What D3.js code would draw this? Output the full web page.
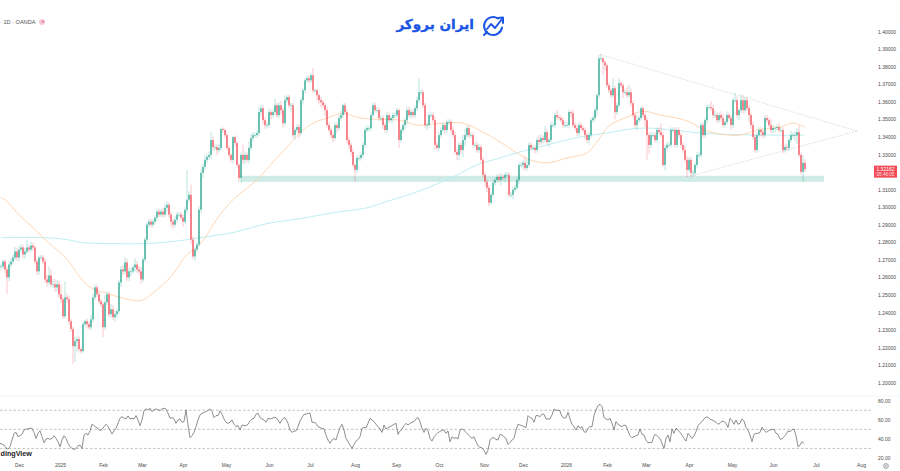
<!DOCTYPE html>
<html><head><meta charset="utf-8">
<script src="https://cdn.jsdelivr.net/npm/d3@7"></script>
<style>
html,body{margin:0;padding:0;background:#fff;overflow:hidden}
svg{display:block;font-family:"Liberation Sans",Arial,sans-serif}
.axis text{fill:#4a4a4a;font-size:5px}
.axis path,.axis line{display:none}
</style></head><body>
<svg id="chart" width="900" height="471"></svg>
<script>
// GBP/USD daily closes, one per session
const closes = [
1.2662,1.2690,1.2645,1.2600,1.2673,1.2690,1.2713,1.2747,1.2713,1.2758,
1.2770,1.2730,1.2747,1.2770,1.2758,1.2781,1.2770,1.2690,1.2634,1.2713,
1.2713,1.2690,1.2588,1.2571,1.2611,1.2560,1.2560,1.2543,1.2560,1.2503,
1.2475,1.2378,1.2486,1.2475,1.2350,1.2305,1.2208,1.2237,1.2248,1.2191,
1.2180,1.2333,1.2350,1.2333,1.2316,1.2361,1.2486,1.2543,1.2503,1.2463,
1.2446,1.2316,1.2458,1.2503,1.2390,1.2418,1.2373,1.2390,1.2407,1.2571,
1.2645,1.2634,1.2685,1.2600,1.2634,1.2634,1.2656,1.2673,1.2645,1.2634,
1.2588,1.2702,1.2815,1.2900,1.2917,1.2900,1.2917,1.2940,1.2974,1.2957,
1.2974,1.2957,1.2996,1.3013,1.2957,1.2917,1.2900,1.2928,1.2957,1.2957,
1.2940,1.2917,1.2985,1.3042,1.3070,1.2815,1.2719,1.2758,1.2787,1.2985,
1.3195,1.3229,1.3269,1.3286,1.3297,1.3382,1.3342,1.3342,1.3325,1.3337,
1.3444,1.3439,1.3410,1.3337,1.3297,1.3269,1.3399,1.3365,1.3240,1.3166,
1.3297,1.3269,1.3297,1.3269,1.3337,1.3393,1.3410,1.3410,1.3422,1.3541,
1.3563,1.3495,1.3467,1.3467,1.3541,1.3524,1.3541,1.3580,1.3524,1.3580,
1.3552,1.3478,1.3609,1.3626,1.3580,1.3580,1.3410,1.3439,1.3456,1.3422,
1.3609,1.3665,1.3722,1.3734,1.3722,1.3751,1.3665,1.3665,1.3637,1.3609,
1.3597,1.3580,1.3552,1.3467,1.3439,1.3410,1.3393,1.3467,1.3450,1.3507,
1.3524,1.3580,1.3541,1.3382,1.3354,1.3314,1.3240,1.3212,1.3280,1.3280,
1.3297,1.3354,1.3439,1.3450,1.3450,1.3524,1.3580,1.3552,1.3552,1.3507,
1.3507,1.3467,1.3439,1.3524,1.3495,1.3507,1.3524,1.3524,1.3552,1.3382,
1.3439,1.3467,1.3495,1.3552,1.3524,1.3541,1.3524,1.3563,1.3609,1.3654,
1.3654,1.3580,1.3467,1.3467,1.3524,1.3524,1.3495,1.3354,1.3337,1.3410,
1.3439,1.3467,1.3439,1.3484,1.3484,1.3439,1.3410,1.3314,1.3297,1.3354,
1.3325,1.3382,1.3410,1.3450,1.3410,1.3410,1.3354,1.3354,1.3325,1.3342,
1.3269,1.3184,1.3144,1.3110,1.3025,1.3070,1.3138,1.3155,1.3172,1.3155,
1.3172,1.3166,1.3184,1.3184,1.3070,1.3070,1.3099,1.3110,1.3155,1.3240,
1.3240,1.3252,1.3223,1.3240,1.3354,1.3337,1.3337,1.3325,1.3382,1.3371,
1.3393,1.3382,1.3427,1.3371,1.3382,1.3467,1.3467,1.3524,1.3512,1.3507,
1.3495,1.3467,1.3467,1.3467,1.3541,1.3535,1.3467,1.3450,1.3422,1.3467,
1.3450,1.3439,1.3410,1.3382,1.3410,1.3495,1.3507,1.3552,1.3637,1.3847,
1.3847,1.3824,1.3807,1.3694,1.3665,1.3637,1.3677,1.3541,1.3580,1.3705,
1.3694,1.3654,1.3654,1.3637,1.3654,1.3592,1.3524,1.3467,1.3495,1.3507,
1.3563,1.3524,1.3495,1.3410,1.3354,1.3410,1.3410,1.3382,1.3439,1.3427,
1.3410,1.3240,1.3337,1.3354,1.3354,1.3439,1.3439,1.3354,1.3439,1.3410,
1.3354,1.3325,1.3269,1.3212,1.3269,1.3195,1.3195,1.3240,1.3297,1.3297,
1.3467,1.3410,1.3495,1.3569,1.3569,1.3563,1.3524,1.3524,1.3495,1.3524,
1.3507,1.3467,1.3484,1.3524,1.3507,1.3467,1.3609,1.3609,1.3524,1.3552,
1.3609,1.3552,1.3609,1.3563,1.3524,1.3467,1.3399,1.3325,1.3410,1.3439,
1.3427,1.3410,1.3507,1.3495,1.3467,1.3439,1.3450,1.3450,1.3456,1.3439,
1.3439,1.3325,1.3342,1.3337,1.3382,1.3410,1.3410,1.3410,1.3427,1.3297,
1.3201,1.3252,1.32162];

// wick length above the body, in pips
const upperWick = [
15,10,10,15,20,20,15,25,20,20,20,15,20,45,15,20,15,10,15,10,
15,15,20,25,50,35,30,30,25,20,55,15,90,20,20,15,15,25,15,15,
10,15,10,15,15,25,20,15,15,15,15,15,40,15,15,30,25,20,15,15,
20,25,30,20,20,25,15,35,20,20,25,15,15,10,15,15,15,15,15,15,
15,20,20,20,15,15,15,20,15,15,15,20,15,170,20,60,20,15,15,20,
20,20,25,15,20,45,20,15,15,25,5,10,10,10,10,10,5,10,10,10,
15,60,20,15,35,25,15,15,15,30,20,15,15,15,20,15,15,40,15,15,
25,15,25,10,15,15,15,15,15,15,15,15,15,15,15,15,40,10,10,10,
20,15,15,20,15,15,15,15,15,15,25,10,15,15,15,15,20,10,15,15,
15,15,15,15,15,20,15,15,15,15,15,15,15,20,15,15,15,15,15,10,
15,15,15,20,20,15,15,15,20,80,15,15,15,15,15,15,15,15,15,15,
15,15,10,15,15,15,20,20,15,15,15,30,35,15,15,15,15,15,15,20,
15,15,15,15,15,15,15,15,15,15,25,15,15,15,15,15,15,15,15,15,
15,15,35,30,15,15,15,15,15,30,20,15,35,15,15,20,15,15,30,15,
15,15,20,15,15,10,20,15,20,15,15,15,15,15,15,15,15,15,10,22,
24,10,10,10,15,15,57,15,15,30,15,15,15,30,40,20,15,15,25,15,
10,15,15,20,15,15,15,15,15,15,50,15,15,20,15,15,15,15,15,15,
15,15,25,20,15,15,15,15,15,15,15,15,15,15,15,35,20,25,15,15,
20,25,15,20,15,20,15,40,20,15,35,30,15,20,15,15,20,15,15,15,
15,15,15,20,15,35,15,15,15,25,15,15,15,20,15,25,15,20,20,40,
15,45,20];

// wick length below the body, in pips
const lowerWick = [
20,15,20,96,20,15,15,15,20,20,15,20,25,15,15,15,20,15,20,20,
15,15,20,25,15,15,20,25,25,20,20,15,15,20,20,15,100,90,60,20,
15,10,15,25,15,15,15,15,15,15,15,57,15,15,15,20,15,25,20,15,
25,20,15,20,20,25,15,25,20,20,25,15,15,15,15,15,15,15,20,15,
15,15,15,20,20,30,25,15,15,15,15,30,15,20,15,25,15,25,15,15,
20,30,20,20,15,25,20,20,30,15,15,15,15,15,15,15,20,20,15,25,
30,25,20,15,20,15,20,15,15,15,20,25,20,20,15,25,15,15,15,15,
25,25,15,15,20,35,15,25,15,30,15,25,15,15,15,15,15,15,30,25,
30,15,35,15,15,20,25,15,25,15,15,15,15,20,25,20,15,68,15,15,
15,15,15,15,20,15,15,15,15,15,15,25,15,20,15,15,25,15,15,45,
15,15,25,25,15,20,15,15,15,15,15,15,15,30,15,15,15,25,15,15,
15,15,25,15,15,20,15,15,30,30,20,40,35,15,15,15,15,15,15,15,
15,15,25,25,20,10,15,15,15,15,30,15,25,15,15,15,25,15,15,25,
15,25,15,15,15,15,15,20,15,20,15,20,15,15,30,15,15,15,15,15,
15,15,15,15,15,25,15,15,15,20,15,15,25,15,25,15,15,15,30,15,
15,70,30,15,15,15,15,40,15,15,15,35,15,15,15,20,15,15,30,15,
15,15,40,140,50,20,15,15,15,15,15,10,30,15,15,15,15,15,15,15,
15,15,15,40,15,25,20,15,15,15,15,15,15,20,15,15,15,15,15,15,
20,15,15,15,15,25,15,15,15,30,15,20,15,15,40,25,15,15,15,15,
25,20,15,15,15,15,20,25,15,15,15,20,15,15,15,15,15,35,50,15,
15,60,15];

// RSI(14) readings
const rsi = [
35.3,34.6,33.5,30.7,29.3,31.8,38.8,45.8,46.8,42.3,43.3,44.7,49.3,50.4,50.4,51.1,51.1,46.8,40.5,45.8,
48.6,42.3,36,39.8,40.5,39.5,40.5,43.3,40.5,37,31.8,38.8,43.3,40.5,35.3,31.8,30,28.9,30,32.8,
33.5,30,44,45.8,44,48.3,55.3,53.9,52.1,51.1,48.6,50,52.8,55.3,52.8,49.3,45.1,48.3,51.1,56.3,
61.6,63.3,61.6,60.9,64,60.9,61.6,60.9,64.4,59.8,53.9,59.8,69.7,71.4,70.4,72.1,68.6,70.4,71.4,70.4,
69.7,71.4,72.1,71.4,66.9,61.6,62.3,60.9,56.3,59.8,60.9,57.4,58.1,70.4,54.6,41.2,43.3,46.8,52.8,59.8,
65.1,66.9,67.6,68.6,69.7,71.4,68.6,62.3,64.4,64.4,69.3,65.8,60.9,57.4,56.3,57.4,59.8,55.3,52.8,53.9,
49.3,54.6,53.9,53.9,55.3,58.8,60.9,61.6,65.8,66.9,62.3,60.9,59.8,57.4,61.6,60.9,61.6,62.3,62.3,59.8,
56.3,59.8,62.3,60.9,56.3,49.3,46.8,48.3,48.3,52.8,
58.8,62.3,65.8,65.8,66.9,66.9,57.4,57.4,56.3,52.8,51.8,51.1,50.4,44,38.8,35.3,38.8,40.5,38.8,45.8,
51.8,55.3,49.3,40.5,37,33.5,30,34.2,37.7,39.5,42.3,51.1,52.1,51.8,56.3,61.6,59.8,58.1,55.3,52.8,
50.4,46.8,54.6,50.4,51.8,52.8,53.9,55.3,56.3,44.7,48.3,50.4,53.9,56.3,54.6,56.3,57.4,58.1,60.9,62.3,
58.1,51.1,46.8,51.1,48.3,40.5,37.7,42.3,44.7,46.8,47.6,49.3,49.3,45.8,48.3,37,42.3,40.5,41.6,39.8,
49.3,50.4,49.3,46.8,44.7,42.3,40.5,42.3,37,32.8,31.1,30.7,28.2,23.7,28.2,38.8,41.2,41.2,39.5,38.8,
44.7,44,42.3,40.5,34.2,36.3,38.8,40.5,49.3,55.3,54.6,53.9,52.8,51.8,64.4,62.3,61.6,57.4,64.4,64.4,
63.3,65.8,65.8,60.9,60.9,60.9,65.1,71.4,69.7,70,69.3,63.3,61.6,62.3,67.9,60.9,55.3,52.8,49.3,53.9,
51.1,52.8,47.6,46.8,51.1,52.8,52.8,64.4,70.4,74.9,
76.3,73.9,62.3,60.9,59.8,61.6,56.3,49.3,58.1,55.3,53.9,52.8,54.6,53.9,48.3,43.3,41.2,42.3,43.3,44,
50.4,44.7,44,38.8,36,36.3,36.3,43.3,44.7,42.3,40.5,35.3,30,40.5,44,37,50.4,45.8,51.1,49.3,
46.8,44,40.5,37.7,45.8,43.3,40.5,43.3,47.6,53.9,56.3,58.1,60.9,63,62.6,60.6,59.8,58.8,57.4,55.3,
56.3,58.8,58.1,56.3,52.1,61.6,59.1,55.3,59.8,55.3,56.3,60.9,58.8,51.8,49.3,44,37,44.7,45.8,45.8,
46.8,52.1,49.3,46.8,48.3,49.3,50,50,45.8,44.7,39.8,39.8,42.3,44.7,48.3,47.6,49.6,50.4,43.3,31.8,
33.5,37,35.3];

// short moving average, read at selected sessions
const fastMaBars = [0,2,10,16,21,33,39.5,44.5,53,59.5,66,70.5,77,85,93,98,103,109.5,116,128,136,143,149.5,156,163,171.5,178,186,199.5,208,216,231,241,249.5,258,264.5,273,283,293,298,304.5,313,321,329.5,338,344.5,350.5,359.5,369.5,378,389.5,396,402];
const fastMaValues = [1.3053,1.3042,1.2945,1.2883,1.2826,1.2702,1.2600,1.2543,1.2509,1.2486,1.2469,1.2469,1.2520,1.2605,1.2730,1.2770,1.2843,1.2957,1.3042,1.3155,1.3257,1.3342,1.3422,1.3478,1.3507,1.3535,1.3512,1.3501,1.3495,1.3467,1.3473,1.3478,1.3427,1.3371,1.3308,1.3269,1.3252,1.3280,1.3308,1.3371,1.3467,1.3512,1.3546,1.3524,1.3507,1.3484,1.3444,1.3416,1.3410,1.3439,1.3456,1.3478,1.3456];

// long moving average, read at selected sessions
const slowMaBars = [0,21,33,40.5,58,71,86,99.5,116,133,149.5,166,183,191,208,226,238,249.5,256,273,289.5,303,314.5,323,336,349.5,359.5,379.5,401.5];
const slowMaValues = [1.2826,1.2826,1.2815,1.2798,1.2792,1.2792,1.2804,1.2826,1.2855,1.2906,1.2934,1.2968,1.2996,1.3025,1.3087,1.3172,1.3240,1.3280,1.3303,1.3354,1.3399,1.3422,1.3444,1.3450,1.3439,1.3422,1.3416,1.3410,1.3410];

// support band and the converging trendlines
const zoneBars = [120, 411.5];
const zonePrices = [1.3178, 1.3144];
const trendUpperBars = [299.5, 428];
const trendUpperPrices = [1.3870, 1.3433];
const trendLowerBars = [343, 428];
const trendLowerPrices = [1.3172, 1.3433];

// axis contents
const priceTicks = [1.40,1.39,1.38,1.37,1.36,1.35,1.34,1.33,1.31,1.30,1.29,1.28,1.27,1.26,1.25,1.24,1.23,1.22,1.21,1.20];
const monthLabels = ["Dec","2025","Feb","Mar","Apr","May","Jun","Jul","Aug","Sep","Oct","Nov","Dec","2026","Feb","Mar","Apr","May","Jun","Jul","Aug"];
const monthBars = [9,29.5,51,70.5,91,112.5,134,154.5,177,197.5,219,241.5,261,282.5,303,322.5,344,365.5,386,407.5,430];
const rsiTicks = [80,60,40,20];
const rsiBands = [70,50,30];
const lastPrice = 1.32162;
const countdown = "05:46:05";

const up = "#089981", down = "#F23645";
const svg = d3.select("#chart");

// bars are evenly spaced, so every pane shares one index scale
const x = d3.scaleLinear().domain([0, 402]).range([1, 805]);
const y = d3.scaleLinear().domain([1.20, 1.40]).range([382.7, 31.5]);
const yRsi = d3.scaleLinear().domain([20, 80]).range([458, 400.7]);

const bars = closes.map((c, i) => {
  const o = i ? closes[i - 1] : c;
  return {
    i, o, c,
    h: Math.max(o, c) + upperWick[i] / 1e4,
    l: Math.min(o, c) - lowerWick[i] / 1e4
  };
});

// support band
svg.append("rect")
  .attr("x", x(zoneBars[0])).attr("width", x(zoneBars[1]) - x(zoneBars[0]))
  .attr("y", y(zonePrices[0])).attr("height", y(zonePrices[1]) - y(zonePrices[0]))
  .attr("fill", "#089981").attr("fill-opacity", 0.2);

// moving averages under the candles
const maLine = d3.line().x(d => x(d[0])).y(d => y(d[1])).curve(d3.curveCatmullRom);
svg.append("path").datum(d3.zip(slowMaBars, slowMaValues)).attr("d", maLine)
  .attr("fill", "none").attr("stroke", "#b5ebef").attr("stroke-width", 0.9);
svg.append("path").datum(d3.zip(fastMaBars, fastMaValues)).attr("d", maLine)
  .attr("fill", "none").attr("stroke", "#fdd3ae").attr("stroke-width", 0.9);

// trendlines
[[trendUpperBars, trendUpperPrices], [trendLowerBars, trendLowerPrices]].forEach(([b, p]) => {
  svg.append("line")
    .attr("x1", x(b[0])).attr("y1", y(p[0])).attr("x2", x(b[1])).attr("y2", y(p[1]))
    .attr("stroke", "#c9c9c9").attr("stroke-width", 0.7).attr("stroke-dasharray", "1.5 1.5");
});

// candles
const g = svg.append("g").selectAll("g").data(bars).join("g");
g.append("line")
  .attr("x1", d => x(d.i)).attr("x2", d => x(d.i))
  .attr("y1", d => y(d.h)).attr("y2", d => y(d.l))
  .attr("stroke", d => d.c >= d.o ? up : down)
  .attr("stroke-opacity", 0.4).attr("stroke-width", 0.7);
g.append("rect")
  .attr("x", d => x(d.i) - 0.6).attr("width", 1.2)
  .attr("y", d => y(Math.max(d.o, d.c)))
  .attr("height", d => Math.max(0.6, y(Math.min(d.o, d.c)) - y(Math.max(d.o, d.c))))
  .attr("fill", d => d.c >= d.o ? up : down).attr("fill-opacity", 0.9);

// price axis
svg.append("g").attr("class", "axis").attr("transform", "translate(874,0)")
  .call(d3.axisRight(y).tickValues(priceTicks).tickSize(0).tickPadding(4).tickFormat(d3.format(".5f")));

// last price tag
svg.append("rect").attr("x", 874).attr("y", y(lastPrice) - 3.5).attr("width", 23).attr("height", 12)
  .attr("fill", down).attr("fill-opacity", 0.9);
svg.append("text").attr("x", 885.5).attr("y", y(lastPrice) + 2.2).attr("text-anchor", "middle")
  .attr("fill", "#fff").attr("font-size", 5).text(d3.format(".5f")(lastPrice));
svg.append("text").attr("x", 885.5).attr("y", y(lastPrice) + 7).attr("text-anchor", "middle")
  .attr("fill", "#fff").attr("fill-opacity", 0.85).attr("font-size", 4.6).text(countdown);

// pane divider
svg.append("line").attr("x1", 0).attr("x2", 900).attr("y1", 396).attr("y2", 396)
  .attr("stroke", "#f0f3fa").attr("stroke-width", 1);

// RSI pane
svg.append("g").selectAll("line").data(rsiBands).join("line")
  .attr("x1", 0).attr("x2", 873).attr("y1", d => yRsi(d)).attr("y2", d => yRsi(d))
  .attr("stroke", "#a9a9a9").attr("stroke-width", 0.7).attr("stroke-dasharray", "2.5 2");
svg.append("path").datum(rsi)
  .attr("d", d3.line().x((d, i) => x(i - 0.5)).y(d => yRsi(d)))
  .attr("fill", "none").attr("stroke", "#6a6a6a").attr("stroke-width", 0.75);
svg.append("g").attr("class", "axis").attr("transform", "translate(874,0)")
  .call(d3.axisRight(yRsi).tickValues(rsiTicks).tickSize(0).tickPadding(4).tickFormat(d3.format(".2f")));

// time axis
svg.append("g").attr("class", "axis").attr("transform", "translate(0,462)")
  .call(d3.axisBottom(x).tickValues(monthBars).tickSize(0).tickPadding(1)
    .tickFormat(d => monthLabels[monthBars.indexOf(d)]));

// settings glyph in the axis corner
svg.append("circle").attr("cx", 886).attr("cy", 466).attr("r", 2.4)
  .attr("fill", "none").attr("stroke", "#777").attr("stroke-width", 0.7);
svg.append("circle").attr("cx", 886).attr("cy", 466).attr("r", 0.9)
  .attr("fill", "none").attr("stroke", "#777").attr("stroke-width", 0.5);

// symbol caption
svg.append("text").attr("x", 0).attr("y", 24)
  .attr("fill", "#555").attr("font-size", 5.6).text("· 1D · OANDA");
svg.append("circle").attr("cx", 42).attr("cy", 22).attr("r", 3).attr("fill", "#f8c8dc");
svg.append("text").attr("x", 42).attr("y", 23.3).attr("text-anchor", "middle")
  .attr("fill", "#d0426f").attr("font-size", 3.6).text("≋");

// watermark
svg.append("text").attr("x", 0.5).attr("y", 456)
  .attr("fill", "#222").attr("font-size", 7.2).attr("font-weight", 700).text("dingView");

// brand mark
const brand = "#1c56e6";
svg.append("text").attr("x", 474).attr("y", 29)
  .attr("direction", "rtl").attr("fill", brand).attr("stroke", brand).attr("stroke-width", 0.35)
  .attr("font-family", "'DejaVu Sans'").attr("font-weight", 700).attr("font-size", 13.6)
  .text("ایران بروکر");
const logo = svg.append("g").attr("fill", "none").attr("stroke", brand)
  .attr("stroke-width", 2).attr("stroke-linecap", "round").attr("stroke-linejoin", "round");
logo.append("path").attr("d", "M498 18.5 A9 9 0 1 0 502 27.5");
logo.append("path").attr("d", "M487 29 L491 24 L495 28 L502 19");
logo.append("path").attr("d", "M497.5 18 L503 17.5 L503 23");
logo.append("path").attr("d", "M484 35 L487 32");
</script></body></html>
